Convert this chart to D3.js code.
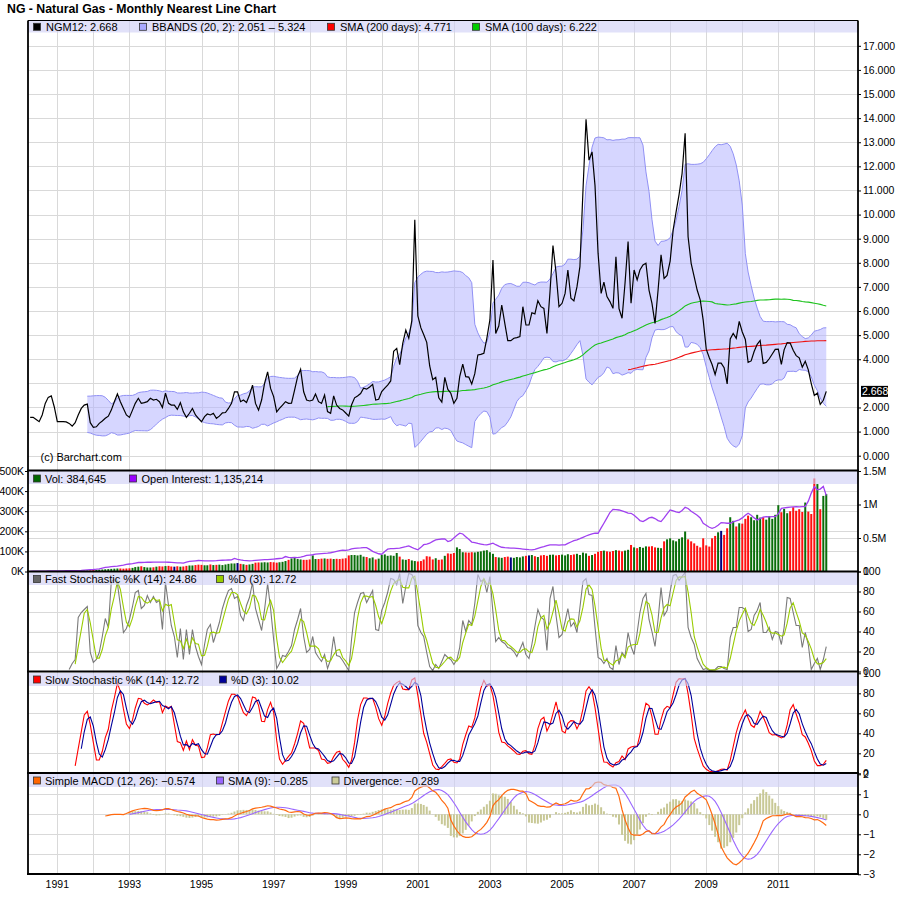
<!DOCTYPE html>
<html><head><meta charset="utf-8">
<script src="https://cdn.jsdelivr.net/npm/d3@7"></script>
<style>body{margin:0;background:#fff}svg{display:block;font-family:"Liberation Sans",Arial,sans-serif}</style>
</head><body><svg width="900" height="915"></svg>
<script>
// ---------------- DATA ----------------
const firstMonth = [1990, 4]; // April 1990, monthly points
// Monthly closes (nearest futures)
const closes = [
 1.59,1.59,1.50,1.41,1.69,2.17,2.42,2.48,2.03,                  // 1990 Apr-Dec
 1.41,1.41,1.41,1.40,1.34,1.23,1.37,1.69,1.96,2.10,2.14,1.37,   // 1991
 1.18,1.20,1.34,1.44,1.55,1.64,1.89,2.24,2.56,2.24,1.96,1.69,   // 1992
 1.59,1.89,2.17,2.38,2.17,2.20,2.24,2.38,2.31,2.34,2.24,2.00,   // 1993
 2.59,2.17,2.10,2.10,1.92,2.20,1.82,1.59,1.76,1.96,1.69,1.55,   // 1994
 1.41,1.62,1.73,1.69,1.76,1.55,1.64,1.78,1.79,1.96,2.17,2.65,   // 1995
 2.65,2.24,2.31,2.21,2.52,2.93,2.17,1.89,2.31,3.00,3.48,2.79,   // 1996
 2.45,1.82,1.96,2.10,2.24,2.17,2.18,2.72,3.28,3.58,2.65,2.31,   // 1997
 2.27,2.31,2.56,2.24,2.17,2.52,1.83,1.76,2.48,2.10,1.96,1.90,   // 1998
 1.77,1.64,2.10,2.40,2.48,2.58,2.80,2.76,2.85,2.96,2.31,2.34,   // 1999
 2.66,2.80,2.93,3.10,4.33,4.45,3.78,4.66,5.21,4.87,5.60,9.78,   // 2000
 5.80,5.30,5.03,4.70,3.72,3.15,3.25,2.40,2.22,3.25,2.75,2.59,   // 2001
 2.17,2.38,3.28,3.80,3.28,3.26,2.97,3.40,4.18,4.20,4.25,4.87,   // 2002
 5.63,8.12,5.07,5.38,6.25,5.49,4.77,4.77,4.87,4.90,4.94,6.18,   // 2003
 5.42,5.42,5.93,5.88,6.43,6.18,6.11,5.07,6.80,8.72,7.60,6.18,   // 2004
 6.32,6.73,7.70,6.53,6.42,7.00,7.84,11.00,13.95,12.26,12.60,11.20, // 2005
 8.40,6.73,7.20,6.60,6.39,6.11,8.25,6.10,5.70,7.15,8.88,6.32,   // 2006
 7.70,7.29,7.70,7.91,7.98,6.87,6.32,5.49,6.87,8.33,7.35,7.48,   // 2007
 8.07,9.37,10.10,10.84,11.70,13.37,9.08,7.98,7.42,6.87,6.46,5.62, // 2008
 4.42,4.06,3.78,3.37,3.84,3.84,3.65,2.98,4.84,5.07,4.87,5.57,   // 2009
 5.13,4.82,3.87,3.93,4.32,4.62,4.78,3.83,3.87,4.02,4.22,4.41,   // 2010
 4.42,3.79,4.39,4.69,4.67,4.37,4.15,4.06,3.67,3.92,3.56,2.99,   // 2011
 2.50,2.60,2.13,2.30,2.668                                      // 2012 Jan-May
];
// Volume, thousands of contracts
const volumeK = [
 1,1,1,1,1,2,2,2,2,
 2,2,3,3,3,3,3,4,4,5,5,6,
 8,8,9,10,11,12,13,14,15,15,14,15,
 16,18,22,24,26,22,20,20,21,24,26,25,
 27,28,25,24,26,24,25,28,30,30,32,34,
 33,31,31,35,32,33,34,32,35,38,40,40,
 42,38,36,33,35,38,44,45,45,46,45,47,
 46,44,46,48,52,58,65,70,62,60,58,58,
 60,80,62,62,64,65,63,64,62,63,62,64,
 66,80,82,82,80,83,74,72,66,70,60,64,
 82,85,78,80,78,92,74,60,58,62,55,52,
 50,52,60,76,74,60,66,58,60,78,90,88,
 92,120,112,96,95,94,96,95,98,100,104,106,
 96,88,72,70,68,72,74,70,68,72,70,75,
 78,80,82,76,72,80,82,78,83,84,80,82,
 84,80,86,82,85,88,82,94,90,78,82,88,
 98,102,104,100,98,102,106,104,100,104,108,132,
 120,116,122,118,125,124,126,120,118,116,150,160,
 165,155,150,162,170,199,160,150,140,128,120,165,
 130,124,165,177,195,202,182,215,270,252,224,240,
 238,262,278,270,255,282,268,270,258,275,262,282,
 330,295,312,290,300,320,302,310,296,343,298,286,
 463,435,310,376,385
];
// Open interest, thousands of contracts
const openInterestK = [
 3,4,5,5,6,7,8,8,9,
 9,10,10,11,11,12,12,13,16,20,24,28,
 30,34,40,50,60,66,72,76,80,88,96,105,
 112,118,126,134,134,136,138,138,140,140,139,139,
 139,138,135,132,130,128,124,140,150,156,160,164,
 162,160,158,158,160,162,165,168,170,172,174,194,
 180,172,166,162,159,162,166,170,174,176,176,180,
 185,190,194,199,223,212,208,210,208,215,225,240,
 245,250,258,262,266,270,273,280,290,300,310,318,
 315,323,338,345,350,352,355,357,330,300,280,265,
 258,300,333,340,342,345,348,360,370,382,360,340,
 323,360,400,410,422,450,472,480,485,487,447,460,
 500,540,571,560,520,480,440,432,420,410,400,397,
 410,422,400,380,362,355,352,350,348,345,340,335,
 330,325,323,330,345,360,370,385,397,397,397,395,
 397,397,420,440,460,472,490,510,530,546,560,571,
 571,650,720,800,880,928,925,918,905,890,870,869,
 840,800,760,745,770,800,809,790,760,745,800,860,
 919,905,890,879,910,958,940,900,869,840,800,720,
 690,660,645,660,690,730,725,720,720,740,755,770,
 800,840,869,840,800,770,790,810,819,815,818,819,
 860,943,950,955,960,965,968,965,968,968,1050,1170,
 1266,1220,1230,1270,1135
];
// Fast stochastic %K (14) (first 13 months undefined)
const fastStochK = [
 null,null,null,null,null,null,null,null,null,null,null,null,null,
 2,8,12,54,59,62,65,19,
 9,12,19,35,53,44,90,92,88,66,39,43,
 52,65,79,81,63,66,76,69,75,69,71,42,
 89,66,46,35,14,43,12,42,17,42,25,15,
 7,27,42,47,29,39,49,63,73,81,83,73,
 75,56,51,66,74,89,63,52,41,62,88,63,
 32,3,8,16,15,20,26,42,52,63,35,19,
 22,35,19,14,10,17,3,12,35,16,15,11,
 6,1,32,59,69,78,79,69,75,81,42,41,
 61,69,79,93,92,87,98,68,85,98,97,91,
 46,39,35,19,5,1,7,3,10,17,14,12,
 7,12,24,51,40,51,47,68,97,90,92,79,
 95,59,30,34,30,28,24,23,20,15,22,29,
 17,13,27,45,62,54,52,21,73,85,56,34,
 37,50,63,45,49,39,64,90,93,77,76,44,
 14,12,8,13,4,2,26,7,19,15,39,25,
 17,39,59,73,78,52,40,25,52,84,56,61,
 80,96,97,91,95,99,44,34,27,13,7,2,
 3,1,1,2,5,5,3,2,34,44,44,64,
 64,62,40,42,56,61,69,39,39,44,32,40,
 39,27,44,74,73,59,46,46,24,39,27,2,
 8,13,2,12,24.86
];
const yearLabels = [1991,1993,1995,1997,1999,2001,2003,2005,2007,2009,2011];
const gridYears = [1991,1992,1993,1994,1995,1996,1997,1998,1999,2000,2001,2002,2003,2004,2005,2006,2007,2008,2009,2010,2011,2012];
const priceTicks = [0,1,2,3,4,5,6,7,8,9,10,11,12,13,14,15,16,17];
const volTicksK = [0,100,200,300,400,500];
const oiTicksK = [0,500,1000,1500];
const stochTicks = [0,20,40,60,80,100];
const macdTicks = [-3,-2,-1,0,1,2];
const title = "NG - Natural Gas - Monthly Nearest Line Chart";
const lastPriceLabel = "2.668";
const priceLegend = ["NGM12: 2.668","BBANDS (20, 2): 2.051 \u2013 5.324","SMA (200 days): 4.771","SMA (100 days): 6.222"];
const volLegend = ["Vol: 384,645","Open Interest: 1,135,214"];
const fastLegend = ["Fast Stochastic %K (14): 24.86","%D (3): 12.72"];
const slowLegend = ["Slow Stochastic %K (14): 12.72","%D (3): 10.02"];
const macdLegend = ["Simple MACD (12, 26): \u22120.574","SMA (9): \u22120.285","Divergence: \u22120.289"];

// ---------------- INDICATORS ----------------
function sma(arr,n){return arr.map((v,i)=>{if(i<n-1)return null;let s=0;for(let k=i-n+1;k<=i;k++){if(arr[k]==null)return null;s+=arr[k];}return s/n;});}
const bbMid = sma(closes,20);
const bbSd = closes.map((v,i)=>{if(bbMid[i]==null)return null;let s=0;for(let k=i-19;k<=i;k++)s+=(closes[k]-bbMid[i])**2;return Math.sqrt(s/20);});
const bb = closes.map((v,i)=>bbMid[i]==null?null:{i,hi:bbMid[i]+2*bbSd[i],lo:bbMid[i]-2*bbSd[i]}).filter(d=>d);
const sma200 = sma(closes,200), sma100 = sma(closes,100);
const fastK = fastStochK;
const fastD = sma(fastK,3), slowK = fastD, slowD = sma(slowK,3);
const s12 = sma(closes,12), s26 = sma(closes,26);
const macd = closes.map((c,i)=>s26[i]==null?null:s12[i]-s26[i]);
const signal = sma(macd,9);
const diverg = macd.map((m,i)=>signal[i]==null?null:m-signal[i]);

// ---------------- LAYOUT ----------------
const svg = d3.select("svg");
const X0 = 28, X1 = 858;
const P = {price:{t:20.5,b:470.5},vol:{t:470.5,b:571.5},fast:{t:571.5,b:671.5},slow:{t:671.5,b:773},macd:{t:773,b:874}};
const date = i => new Date(firstMonth[0], firstMonth[1]-1+i, 1);
const x = d3.scaleTime().domain([new Date(1991,0,1), new Date(2011,0,1)]).range([57.3, 778.3]);
const yP = d3.scaleLinear().domain([0,17]).range([455.7,45.8]);
const yV = d3.scaleLinear().domain([0,500]).range([571.5,471]);
const yOI = d3.scaleLinear().domain([0,1500]).range([571.5,471]);
const yF = d3.scaleLinear().domain([0,100]).range([671.5,571.5]);
const yS = d3.scaleLinear().domain([0,100]).range([773.3,673.3]);
const yM = d3.scaleLinear().domain([-3,2]).range([874.3,774.3]);
const GRID = "#d9d9d9";

const defs = svg.append("defs");
Object.entries(P).forEach(([k,p])=>{defs.append("clipPath").attr("id","clip-"+k).append("rect").attr("x",X0).attr("y",p.t).attr("width",X1-X0).attr("height",p.b-p.t);});

// title
svg.append("text").attr("x",7).attr("y",13).attr("font-size","12.3px").attr("font-weight","bold").text(title);

// horizontal grids
function hgrid(ticks,y){svg.append("g").selectAll("line").data(ticks).join("line").attr("x1",X0).attr("x2",X1).attr("y1",d=>Math.round(y(d))+0.5).attr("y2",d=>Math.round(y(d))+0.5).attr("stroke",GRID);}
hgrid(priceTicks,yP); hgrid(volTicksK.slice(1,-1),yV); hgrid(oiTicksK.slice(1,-1),yOI);
hgrid([20,40,60,80],yF); hgrid([20,40,60,80],yS); hgrid([-2,-1,0,1],yM);
// vertical grid
svg.append("g").selectAll("line").data(gridYears).join("line")
 .attr("x1",d=>Math.round(x(new Date(d,0,1)))+0.5).attr("x2",d=>Math.round(x(new Date(d,0,1)))+0.5)
 .attr("y1",P.price.t).attr("y2",P.macd.b).attr("stroke",GRID);

const pts = arr => arr.map((v,i)=>({i,v})).filter(d=>d.v!=null);
const line = y => d3.line().x(d=>x(date(d.i))).y(d=>y(d.v));

// ---- price panel
const gp = svg.append("g").attr("clip-path","url(#clip-price)");
gp.append("path").datum(bb).attr("d",d3.area().x(d=>x(date(d.i))).y0(d=>yP(d.lo)).y1(d=>yP(d.hi)))
  .attr("fill","#b4b4ff").attr("fill-opacity",0.55);
gp.append("path").datum(bb).attr("d",d3.line().x(d=>x(date(d.i))).y(d=>yP(d.hi))).attr("fill","none").attr("stroke","#9090f4").attr("stroke-width",1);
gp.append("path").datum(bb).attr("d",d3.line().x(d=>x(date(d.i))).y(d=>yP(d.lo))).attr("fill","none").attr("stroke","#9090f4").attr("stroke-width",1);
gp.append("path").datum(pts(sma100)).attr("d",line(yP)).attr("fill","none").attr("stroke","#1cc21c").attr("stroke-width",1.1);
gp.append("path").datum(pts(sma200)).attr("d",line(yP)).attr("fill","none").attr("stroke","#ee1111").attr("stroke-width",1.1);
gp.append("path").datum(pts(closes)).attr("d",line(yP)).attr("fill","none").attr("stroke","#000").attr("stroke-width",1.2);
svg.append("text").attr("x",40.5).attr("y",461).attr("font-size","11px").text("(c) Barchart.com");

// ---- volume panel
const gv = svg.append("g").attr("clip-path","url(#clip-vol)");
const vcol = i => i===0||closes[i]>closes[i-1]?"#0a6e0a":(closes[i]<closes[i-1]?"#ff1010":"#000080");
gv.selectAll("rect").data(volumeK).join("rect")
  .attr("x",(d,i)=>x(date(i))-1).attr("width",2)
  .attr("y",d=>yV(d)).attr("height",d=>yV(0)-yV(d)).attr("fill",(d,i)=>vcol(i));
gv.append("path").datum(pts(openInterestK)).attr("d",line(yOI)).attr("fill","none").attr("stroke","#a040f0").attr("stroke-width",1.3);

// ---- fast stochastic
const gf = svg.append("g").attr("clip-path","url(#clip-fast)");
gf.append("path").datum(pts(fastK)).attr("d",line(yF)).attr("fill","none").attr("stroke","#7a7a7a").attr("stroke-width",1.1);
gf.append("path").datum(pts(fastD)).attr("d",line(yF)).attr("fill","none").attr("stroke","#99cc00").attr("stroke-width",1.1);

// ---- slow stochastic
const gs = svg.append("g").attr("clip-path","url(#clip-slow)");
gs.append("path").datum(pts(slowK)).attr("d",line(yS)).attr("fill","none").attr("stroke","#ff0000").attr("stroke-width",1.1);
gs.append("path").datum(pts(slowD)).attr("d",line(yS)).attr("fill","none").attr("stroke","#00009a").attr("stroke-width",1.1);

// ---- MACD
const gm = svg.append("g").attr("clip-path","url(#clip-macd)");
gm.selectAll("rect").data(pts(diverg)).join("rect")
  .attr("x",d=>x(date(d.i))-1).attr("width",2)
  .attr("y",d=>Math.min(yM(0),yM(d.v))).attr("height",d=>Math.abs(yM(d.v)-yM(0))).attr("fill","#c8c896");
gm.append("path").datum(pts(signal)).attr("d",line(yM)).attr("fill","none").attr("stroke","#9966ff").attr("stroke-width",1.1);
gm.append("path").datum(pts(macd)).attr("d",line(yM)).attr("fill","none").attr("stroke","#ff6a10").attr("stroke-width",1.2);

// ---- legend bands (translucent overlays)
const bands = [[P.price.t,12],[P.vol.t,13.5],[P.fast.t+1,12.5],[P.slow.t+1.5,13],[P.macd.t+0.5,13.5]];
svg.append("g").selectAll("rect").data(bands).join("rect").attr("x",X0).attr("width",X1-X0)
 .attr("y",d=>d[0]).attr("height",d=>d[1]).attr("fill","rgb(206,206,246)").attr("fill-opacity",0.62);

function legend(items,yc){
  const g = svg.append("g").attr("font-size","11px");
  items.forEach(it=>{
    g.append("rect").attr("x",it.sx).attr("y",yc-3.5).attr("width",7).attr("height",7).attr("fill",it.c).attr("stroke","#333").attr("stroke-width",0.8);
    g.append("text").attr("x",it.tx).attr("y",yc+4).text(it.label);
  });
}
legend([{sx:33.5,tx:46,c:"#000",label:priceLegend[0]},{sx:139.5,tx:152,c:"#aaaaff",label:priceLegend[1]},
        {sx:327.5,tx:340,c:"#ff0000",label:priceLegend[2]},{sx:472.5,tx:485,c:"#00cc00",label:priceLegend[3]}],26.8);
legend([{sx:33.5,tx:45,c:"#006600",label:volLegend[0]},{sx:129.5,tx:141.5,c:"#9900ff",label:volLegend[1]}],478.5);
legend([{sx:33.5,tx:45,c:"#666666",label:fastLegend[0]},{sx:216.5,tx:228.5,c:"#99cc00",label:fastLegend[1]}],579);
legend([{sx:33.5,tx:45,c:"#ff0000",label:slowLegend[0]},{sx:219.5,tx:231,c:"#000099",label:slowLegend[1]}],679.5);
legend([{sx:33.5,tx:45,c:"#ff6600",label:macdLegend[0]},{sx:216.5,tx:228,c:"#9966ff",label:macdLegend[1]},{sx:332,tx:343.5,c:"#cccc99",label:macdLegend[2]}],780.5);

// ---- axes
const lastY = yP(closes[closes.length-1]);
function styleAxis(g){g.select(".domain").remove();g.selectAll("text").attr("font-size","10.5px").attr("fill","#000");g.selectAll("line").attr("stroke","#000");}
svg.append("g").attr("transform",`translate(${X1},0)`)
 .call(d3.axisRight(yP).tickValues(priceTicks.filter(t=>Math.abs(yP(t)-lastY)>10)).tickFormat(d3.format(".3f")).tickSize(3).tickPadding(2)).call(styleAxis);
svg.append("g").attr("transform",`translate(${X0},0)`).call(d3.axisLeft(yV).tickValues(volTicksK).tickFormat(d=>d+"K").tickSize(3).tickPadding(1)).call(styleAxis);
svg.append("g").attr("transform",`translate(${X1},0)`).call(d3.axisRight(yOI).tickValues(oiTicksK).tickFormat(d=>d===0?"0":(d/1000)+"M").tickSize(3).tickPadding(2)).call(styleAxis);
svg.append("g").attr("transform",`translate(${X1},0)`).call(d3.axisRight(yF).tickValues(stochTicks).tickSize(3).tickPadding(2)).call(styleAxis);
svg.append("g").attr("transform",`translate(${X1},0)`).call(d3.axisRight(yS).tickValues(stochTicks).tickSize(3).tickPadding(2)).call(styleAxis);
svg.append("g").attr("transform",`translate(${X1},0)`).call(d3.axisRight(yM).tickValues(macdTicks).tickFormat(d3.format("d")).tickSize(3).tickPadding(2)).call(styleAxis);
// x labels
svg.append("g").selectAll("text").data(yearLabels).join("text")
 .attr("x",d=>x(new Date(d,0,1))).attr("y",888).attr("text-anchor","middle").attr("font-size","10.5px").text(d=>d);

// last price marker
svg.append("rect").attr("x",861).attr("y",lastY-5.5).attr("width",27).attr("height",11).attr("fill","#000");
svg.append("text").attr("x",862).attr("y",lastY+4).attr("font-size","10.5px").attr("fill","#fff").text(lastPriceLabel);

// ---- borders
const bd = svg.append("g").attr("stroke","#000").attr("fill","none");
bd.append("line").attr("x1",X0).attr("x2",X1).attr("y1",P.price.t).attr("y2",P.price.t).attr("stroke-width",1);
[P.vol.t,P.fast.t,P.slow.t,P.macd.t,P.macd.b].forEach(y=>bd.append("line").attr("x1",X0-1).attr("x2",X1+1).attr("y1",y).attr("y2",y).attr("stroke-width",2.2));
bd.append("line").attr("x1",X0).attr("x2",X0).attr("y1",P.price.t).attr("y2",P.macd.b).attr("stroke-width",1.8);
bd.append("line").attr("x1",X1).attr("x2",X1).attr("y1",P.price.t).attr("y2",P.macd.b).attr("stroke-width",1.8);
</script></body></html>
